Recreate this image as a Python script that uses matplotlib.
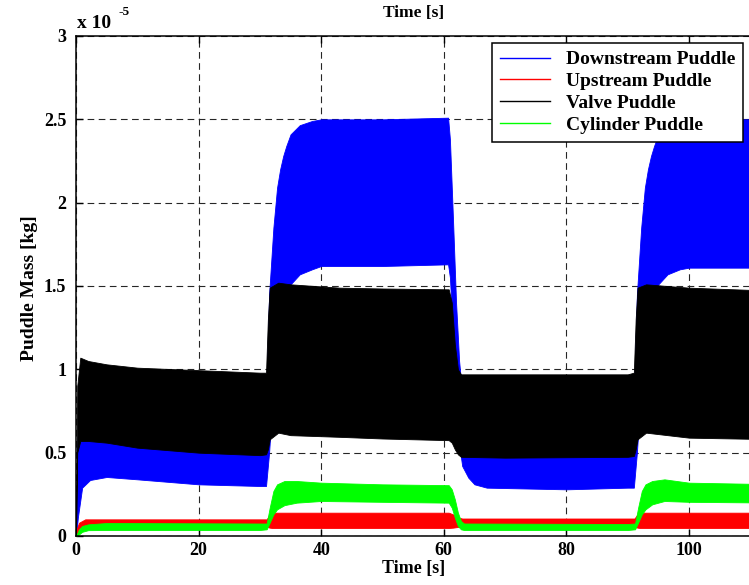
import matplotlib
matplotlib.use("Agg")
import matplotlib.pyplot as plt
from matplotlib.lines import Line2D
import numpy as np

# ---- data (envelopes of the oscillating puddle masses, units of 1e-5 kg) ----
SCALE = 1e-5

t_ds = [0, 0.15, 0.3, 1, 2.3, 5, 10, 20, 30, 31,
        31.5, 32.2, 32.8, 33.3, 33.8, 34.3, 35, 36.5, 38.5, 40, 50, 60.7,
        61, 61.5, 62, 62.5, 63, 64, 65, 67, 80, 90,
        91, 91.5, 92.2, 92.8, 93.3, 93.8, 94.3, 95, 96.5, 98.5, 100, 115]
ds_hi = [0, 0.5, 0.6, 0.83, 0.85, 0.84, 0.82, 0.80, 0.79, 0.80,
         1.45, 1.85, 2.09, 2.20, 2.28, 2.34, 2.41, 2.465, 2.49, 2.50, 2.50, 2.51,
         2.38, 1.90, 1.40, 1.05, 0.85, 0.80, 0.80, 0.79, 0.78, 0.78,
         0.79, 1.45, 1.85, 2.09, 2.20, 2.28, 2.34, 2.41, 2.465, 2.49, 2.50, 2.50]
ds_lo = [0, 0.05, 0.11, 0.29, 0.336, 0.354, 0.34, 0.31, 0.30, 0.30,
         0.50, 0.90, 1.15, 1.28, 1.38, 1.45, 1.51, 1.57, 1.60, 1.62, 1.62, 1.63,
         1.55, 1.20, 0.80, 0.55, 0.42, 0.35, 0.31, 0.29, 0.28, 0.29,
         0.29, 0.50, 0.90, 1.15, 1.28, 1.38, 1.45, 1.51, 1.57, 1.60, 1.61, 1.61]

t_us = [0, 0.5, 1.5, 30, 31.1, 31.6, 32, 60.8, 61.5, 62.5, 63, 90, 91.1, 91.6, 92, 115]
us_hi = [0.03, 0.08, 0.10, 0.10, 0.10, 0.13, 0.14, 0.14, 0.13, 0.11, 0.105, 0.105, 0.105, 0.13, 0.14, 0.14]
us_lo = [0, 0.045, 0.055, 0.055, 0.055, 0.05, 0.048, 0.048, 0.05, 0.055, 0.055, 0.055, 0.055, 0.05, 0.048, 0.048]

t_vp = [0, 0.2, 0.7, 2, 5, 10, 20, 30, 31, 31.3,
        31.6, 33, 35, 43, 50, 60.8, 61.3, 61.8, 62.3, 62.8,
        70, 90, 91, 91.3, 91.6, 93, 100, 115]
vp_hi = [0, 0.9, 1.07, 1.05, 1.03, 1.01, 0.995, 0.98, 0.98, 1.3,
         1.49, 1.52, 1.51, 1.49, 1.485, 1.48, 1.40, 1.15, 1.0, 0.97,
         0.97, 0.97, 0.98, 1.3, 1.49, 1.51, 1.49, 1.47]
vp_lo = [0, 0.5, 0.57, 0.57, 0.56, 0.53, 0.50, 0.485, 0.49, 0.52,
         0.58, 0.62, 0.605, 0.595, 0.585, 0.575, 0.56, 0.52, 0.49, 0.475,
         0.47, 0.475, 0.48, 0.52, 0.58, 0.62, 0.59, 0.58]

t_cy = [0, 0.5, 1, 2, 5, 30, 31.1, 31.6, 32.2, 32.8,
        34, 36, 40, 50, 60.8, 61.3, 61.8, 62.3, 62.8, 63.3,
        90, 91.2, 91.7, 92.3, 92.9, 94, 96, 100, 115]
cy_hi = [0, 0.04, 0.06, 0.07, 0.078, 0.075, 0.075, 0.17, 0.27, 0.31,
         0.33, 0.33, 0.32, 0.31, 0.305, 0.28, 0.22, 0.14, 0.09, 0.075,
         0.072, 0.075, 0.17, 0.27, 0.31, 0.33, 0.34, 0.32, 0.31]
cy_lo = [0, 0.01, 0.025, 0.035, 0.036, 0.036, 0.04, 0.08, 0.13, 0.16,
         0.185, 0.20, 0.21, 0.205, 0.20, 0.17, 0.11, 0.06, 0.04, 0.036,
         0.036, 0.04, 0.08, 0.13, 0.16, 0.19, 0.21, 0.205, 0.20]

labels = ["Downstream Puddle", "Upstream Puddle", "Valve Puddle", "Cylinder Puddle"]
colors = ["#0000ff", "#ff0000", "#000000", "#00ff00"]
x_ticks = [0, 20, 40, 60, 80, 100]
y_ticks = [0, 0.5, 1, 1.5, 2, 2.5, 3]
y_tick_labels = ["0", "0.5", "1", "1.5", "2", "2.5", "3"]

# ---- style ----
plt.rcParams["font.family"] = ["Liberation Serif", "DejaVu Serif"]
plt.rcParams["font.weight"] = "bold"

W, H = 749, 585
fig = plt.figure(figsize=(W / 100, H / 100), dpi=100)
px_per_unit = 6.13
ax = fig.add_axes([76 / W, (H - 536) / H, 120 * px_per_unit / W, 500 / H])

series = [(t_ds, ds_hi, ds_lo), (t_us, us_hi, us_lo), (t_vp, vp_hi, vp_lo), (t_cy, cy_hi, cy_lo)]
for (t, hi, lo), c in zip(series, colors):
    ax.fill_between(np.asarray(t), np.asarray(lo) * SCALE, np.asarray(hi) * SCALE,
                    color=c, linewidth=0.6, edgecolor=c, zorder=2)

ax.set_xlim(0, 120)
ax.set_ylim(0, 3 * SCALE)
ax.set_xticks(x_ticks)
ax.set_yticks([v * SCALE for v in y_ticks])
ax.set_yticklabels(y_tick_labels)
ax.tick_params(direction="in", length=5, width=1, top=True, right=True,
               labelsize=13)
ax.tick_params(axis="x", pad=4)
ax.tick_params(axis="y", pad=7)
for lab in ax.get_xticklabels() + ax.get_yticklabels():
    lab.set_fontweight("bold")
for s in ax.spines.values():
    s.set_linewidth(1.1)
ax.set_axisbelow(True)
ax.grid(True, color="0.15", linestyle=(0, (6, 4)), linewidth=0.8)

# texts
fig.text(414 / W, 1 - 13 / H, "Time [s]", ha="center", va="center", fontsize=12.5, fontweight="bold")
fig.text(414 / W, 1 - 569 / H, "Time [s]", ha="center", va="center", fontsize=13, fontweight="bold")
fig.text(30 / W, 1 - 288 / H, "Puddle Mass [kg]", ha="center", va="center", rotation=90,
         fontsize=14, fontweight="bold")
fig.text(77 / W, 1 - 23 / H, "x 10", ha="left", va="center", fontsize=14, fontweight="bold")
fig.text(119 / W, 1 - 12 / H, "-5", ha="left", va="center", fontsize=9.5, fontweight="bold")

handles = [Line2D([0], [0], color=c, linewidth=1) for c in colors]
leg = fig.legend(handles, labels, loc="upper right", bbox_to_anchor=(743 / W, 1 - 43 / H),
                 prop={"family": ["Liberation Serif"], "weight": "bold", "size": 14},
                 frameon=True, fancybox=False, framealpha=1, edgecolor="black",
                 handlelength=2.6, handletextpad=0.8, labelspacing=0.22, borderpad=0.4,
                 borderaxespad=0)
leg.get_frame().set_linewidth(1.1)

fig.savefig("out.png", dpi=100)
